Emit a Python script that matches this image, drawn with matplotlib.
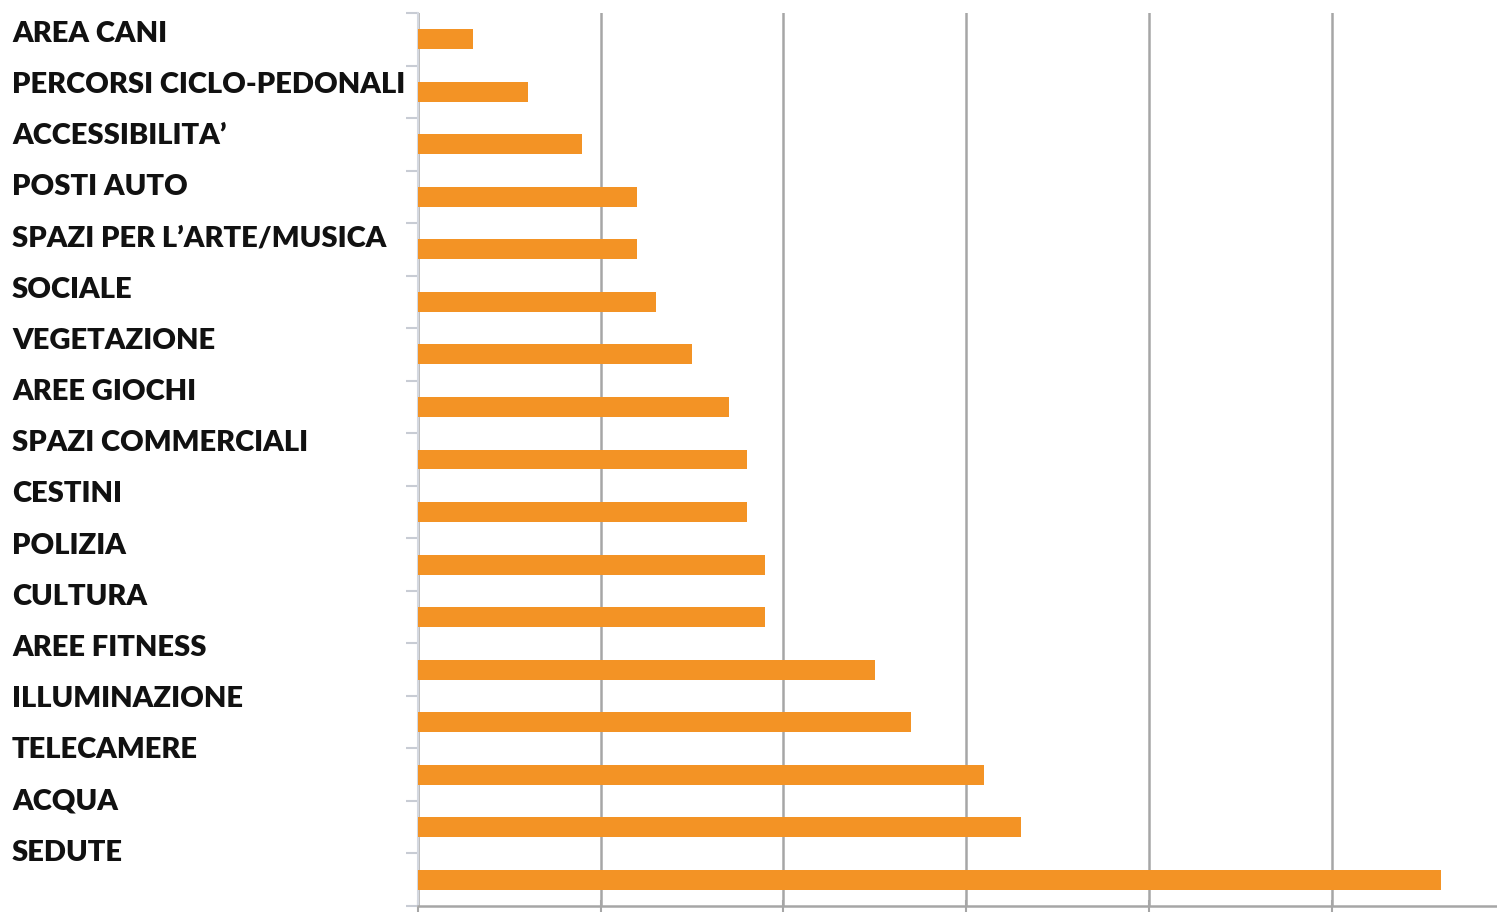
import matplotlib
matplotlib.use("Agg")
import matplotlib.pyplot as plt
import numpy as np

categories = ["AREA CANI", "PERCORSI CICLO-PEDONALI", "ACCESSIBILITA’", "POSTI AUTO",
              "SPAZI PER L’ARTE/MUSICA", "SOCIALE", "VEGETAZIONE", "AREE GIOCHI",
              "SPAZI COMMERCIALI", "CESTINI", "POLIZIA", "CULTURA", "AREE FITNESS",
              "ILLUMINAZIONE", "TELECAMERE", "ACQUA", "SEDUTE"]
values = [3, 6, 9, 12, 12, 13, 15, 17, 18, 18, 19, 19, 25, 27, 31, 33, 56]
xticks = [0, 10, 20, 30, 40, 50]

W, H = 1497, 914
fig = plt.figure(figsize=(W / 100, H / 100), dpi=100)
left, right, top, bottom = 418, 1497, 13, 906
ax = fig.add_axes([left / W, 1 - bottom / H, (right - left) / W, (bottom - top) / H])

n = len(categories)
pos = np.arange(n)
ax.barh(pos, values, height=0.38, color="#F39325", zorder=3)
ax.set_ylim(n - 0.5, -0.5)
ax.set_xlim(0, (right - left) / 18.27)

ax.set_xticks(xticks)
ax.set_xticklabels([])
ax.grid(axis="x", color="#a6a6a6", linewidth=1.8, zorder=0)
ax.set_yticks(np.arange(n + 1) - 0.5)
ax.set_yticklabels([])
ax.tick_params(axis="y", length=9, color="#c8ccd4", width=1.5, direction="out")
ax.tick_params(axis="x", length=8, color="#a6a6a6", width=1.5, direction="inout")
for s in ["top", "right"]:
    ax.spines[s].set_visible(False)
ax.spines["left"].set_color("#d4d8e0")
ax.spines["left"].set_linewidth(1.5)
ax.spines["bottom"].set_color("#a6a6a6")
ax.spines["bottom"].set_linewidth(1.8)

for i, c in enumerate(categories):
    ypx = 33.5 + i * 51.2
    fig.text(12 / W, 1 - ypx / H, c, ha="left", va="center", fontsize=21,
             fontweight="heavy", family=["Lato", "DejaVu Sans"], color="#111111")

fig.savefig("out.png", dpi=100)
